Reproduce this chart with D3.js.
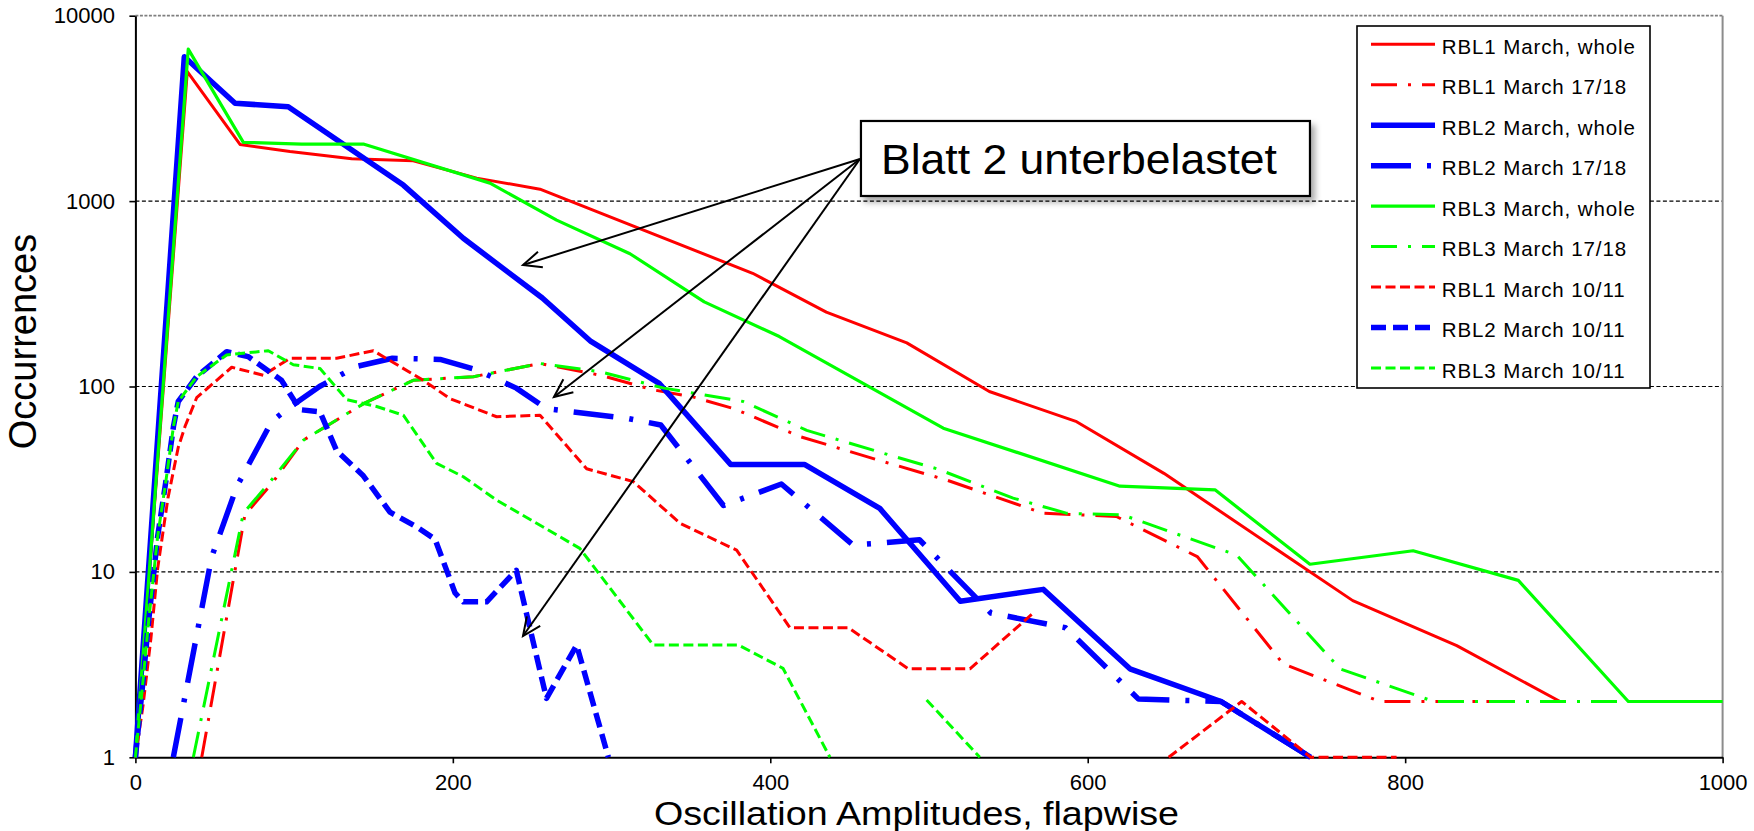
<!DOCTYPE html>
<html><head><meta charset="utf-8">
<script src="https://cdn.jsdelivr.net/npm/d3@7"></script>
<style>
html,body{margin:0;padding:0;background:#fff;}
svg{display:block;}
text{font-family:"Liberation Sans",Arial,Helvetica,sans-serif;fill:#000;}
</style></head><body>
<svg id="chart" width="1754" height="831"></svg>
<script>
// ---------- DATA ----------
const xTicks = [0, 200, 400, 600, 800, 1000];
const yTicks = [1, 10, 100, 1000, 10000];
const xTitle = "Oscillation Amplitudes, flapwise";
const yTitle = "Occurrences";
const annotationText = "Blatt 2 unterbelastet";

const seriesNames = [
  "RBL1 March, whole", "RBL1 March 17/18", "RBL2 March, whole", "RBL2 March 17/18",
  "RBL3 March, whole", "RBL3 March 17/18", "RBL1 March 10/11", "RBL2 March 10/11", "RBL3 March 10/11"
];

// [amplitude, occurrences]; null occurrences = gap (zero count on log axis)
const rbl1Whole = [[0,1],[32.7,5000],[65.9,2020],[97.4,1850],[136.3,1690],[175.1,1650],[215,1330],[254.9,1160],[388.9,408],[435.3,252],[486,172],[538,94],[593,64.6],[648,34],[767,7],[832.5,4],[897.6,2]];
const rbl1Mar1718 = [[41.8,1],[69,20.3],[86,30],[106,51.5],[144,81],[175,108],[213,113],[255,133],[293,115],[326,96],[351,88],[377,76],[419,53.6],[475,38.5],[511,31.3],[572,20.7],[618,19.9],[669,12.1],[723,3.2],[784,2],[870,2]];
const rbl2Whole = [[0,1],[30.8,6000],[62.8,3370],[96.3,3230],[168.8,1220],[206.6,630],[256.4,300],[287,175],[330,104],[375,38],[421.5,38],[469,22],[519.7,6.95],[572,8.05],[626.6,3],[684,2],[740.5,1]];
const rbl2Mar1718 = [[23.9,1],[48,12],[64,29],[86,65],[96,76],[116,100],[139,128],[162,142],[192,140],[215,123],[240,98],[259,76],[311,67],[331,62],[370.5,22.8],[407,29.8],[452,14],[469,14.3],[494,14.9],[539,6],[586,5],[632,2.06],[684,2],[740.5,1]];
const rbl3Whole = [[0,1],[33.3,6600],[68,2075],[104.8,2030],[143.6,2030],[223.4,1250],[265.4,790],[311.6,520],[358.4,286],[405.7,186],[509,59.6],[620.3,29],[680.2,27.7],[740,11],[805,13],[871.3,9],[940.6,2],[1000,2]];
const rbl3Mar1718 = [[36.5,1],[68,20.7],[84,30],[106,51.5],[144,81],[175,108],[213,113],[255,133],[293,120],[333,98],[383,83],[423,58],[475,42.7],[505,36],[553,25],[587,20.7],[622,20.3],[694,12.3],[759,3],[818,2],[935,2]];
const rbl1Mar1011 = [[0,1],[4.8,1.9],[9.8,4.4],[14,10.4],[20.5,25],[27,47],[31.3,61],[38.6,87],[60.7,127],[80.6,115],[97.4,142],[126.8,142],[149.9,156],[181.4,108],[198.2,86],[227.6,68.7],[254.9,70],[284.3,36],[313.7,30.7],[343.1,18.3],[378.8,13.1],[412.4,5],[449.2,5],[487,3],[525.8,3],[565.7,6],[610,null],[651,1],[697,2],[740.5,1],[794.6,1]];
const rbl2Mar1011 = [[0,1],[4,2.2],[8.4,5.5],[14,15.5],[19,30],[24,61],[27,83],[38.6,113],[57.5,154],[71,145],[92,108],[103.7,75],[116.3,73],[126.8,45],[143.6,33],[160.4,21],[177.2,17.5],[188.8,15],[201.4,7.7],[206.6,6.9],[221.3,6.9],[240,10.2],[259,2.08],[278,4.03],[298,1]];
const rbl3Mar1011 = [[0,1],[4,2.2],[8.4,5.5],[14,15.5],[19,30],[24,61],[27,83],[38.6,113],[57.5,148],[83.7,156],[99.5,131],[116.3,125],[133.1,85],[152,78],[168.8,70],[189.8,38.5],[206.6,32.6],[227.6,24.4],[280,13.4],[326.3,4.03],[380,4.03],[408,3.02],[437.6,1],[468,null],[498.5,2.04],[532,1]];

// annotation anchor (data coords) and arrow targets
const annotationApex = [456.5, 1687];
const annotationTargets = [[244.2, 452], [263.7, 87.8], [244.2, 4.51]];

// ---------- STYLES ----------
const seriesData = [rbl1Whole, rbl1Mar1718, rbl2Whole, rbl2Mar1718, rbl3Whole, rbl3Mar1718, rbl1Mar1011, rbl2Mar1011, rbl3Mar1011];
const seriesStyles = [
  {color:"#ff0000", width:3,   dash:null},
  {color:"#ff0000", width:3,   dash:"26 11 3 11"},
  {color:"#0000ff", width:5.5, dash:null},
  {color:"#0000ff", width:5.5, dash:"40 16 4 16"},
  {color:"#00ff00", width:3.2, dash:null},
  {color:"#00ff00", width:3,   dash:"26 11 3 11"},
  {color:"#ff0000", width:3,   dash:"10 4.5"},
  {color:"#0000ff", width:5.5, dash:"15 7"},
  {color:"#00ff00", width:3,   dash:"10 4.5"}
];

// ---------- LAYOUT ----------
const L = 135.4, R = 1722.6, T = 15.7, B = 757.3;
const svg = d3.select("#chart");
const x = d3.scaleLinear().domain([0, 1000]).range([L, R]);
const y = d3.scaleLog().domain([1, 10000]).range([B, T]);

const defs = svg.append("defs");
defs.append("clipPath").attr("id","plotclip").append("rect")
  .attr("x", L - 4).attr("y", T - 4).attr("width", R - L + 8).attr("height", B - T + 10);
const f = defs.append("filter").attr("id","shadow").attr("x","-10%").attr("y","-20%").attr("width","130%").attr("height","160%");
f.append("feDropShadow").attr("dx",4).attr("dy",5).attr("stdDeviation",3).attr("flood-color","#000").attr("flood-opacity",0.35);

// gridlines
svg.append("g").selectAll("line").data(yTicks.filter(v => v > 1))
  .join("line")
  .attr("x1", L).attr("x2", R)
  .attr("y1", d => y(d)).attr("y2", d => y(d))
  .attr("stroke", d => d === 10000 ? "#7f7f7f" : "#000")
  .attr("stroke-width", d => d === 10000 ? 1.8 : 1.2)
  .attr("stroke-dasharray", d => d === 10000 ? "3 1.5" : "4 2.5");

// right border
svg.append("line").attr("x1", R).attr("x2", R).attr("y1", T).attr("y2", B)
  .attr("stroke", "#8c8c8c").attr("stroke-width", 2);

// axes
const yAxis = d3.axisLeft(y).tickValues(yTicks).tickFormat(d3.format("d")).tickSize(6).tickSizeOuter(0).tickPadding(14.4);
const xAxis = d3.axisBottom(x).tickValues(xTicks).tickFormat(d3.format("d")).tickSize(6).tickSizeOuter(0).tickPadding(11);
const gy = svg.append("g").attr("transform", `translate(${L},0)`).call(yAxis);
const gx = svg.append("g").attr("transform", `translate(0,${B})`).call(xAxis);
[gx, gy].forEach(g => {
  g.select(".domain").attr("stroke", "#000").attr("stroke-width", 2);
  g.selectAll(".tick line").attr("stroke", "#000").attr("stroke-width", 1.6);
  g.selectAll(".tick text").attr("font-size", 22).attr("font-family", "Liberation Sans, Arial, sans-serif").attr("fill", "#000");
});

// series
const line = d3.line()
  .defined(d => d[1] != null && d[1] > 0)
  .x(d => x(d[0])).y(d => y(d[1]));
const gs = svg.append("g").attr("clip-path", "url(#plotclip)");
seriesData.forEach((data, i) => {
  const s = seriesStyles[i];
  gs.append("path").datum(data)
    .attr("d", line)
    .attr("fill", "none")
    .attr("stroke", s.color)
    .attr("stroke-width", s.width)
    .attr("stroke-linejoin", "round")
    .attr("stroke-dasharray", s.dash);
});

// axis titles
svg.append("text").attr("x", 916.5).attr("y", 825).attr("text-anchor", "middle")
  .attr("font-size", 33).attr("textLength", 525).attr("lengthAdjust", "spacingAndGlyphs").text(xTitle);
svg.append("text").attr("transform", "translate(36,341.5) rotate(-90)").attr("text-anchor", "middle")
  .attr("font-size", 38).text(yTitle);

// legend
const lg = svg.append("g");
lg.append("rect").attr("x", 1357).attr("y", 26).attr("width", 293).attr("height", 362)
  .attr("fill", "#fff").attr("stroke", "#000").attr("stroke-width", 1.6);
seriesNames.forEach((name, i) => {
  const s = seriesStyles[i];
  const ly = 44.3 + i * 40.46;
  lg.append("line").attr("x1", 1371).attr("x2", 1435).attr("y1", ly).attr("y2", ly)
    .attr("stroke", s.color).attr("stroke-width", s.width).attr("stroke-dasharray", s.dash);
  lg.append("text").attr("x", 1441.7).attr("y", ly + 9.7).attr("font-size", 20.5)
    .attr("letter-spacing", "0.9px").text(name);
});

// annotation arrows
const ax = x(annotationApex[0]) , ay = y(annotationApex[1]);
const ag = svg.append("g");
annotationTargets.forEach(t => {
  const tx = x(t[0]), ty = y(t[1]);
  ag.append("line").attr("x1", ax).attr("y1", ay).attr("x2", tx).attr("y2", ty)
    .attr("stroke", "#000").attr("stroke-width", 2);
  const ang = Math.atan2(ay - ty, ax - tx);
  const hl = 20, ha = 0.42;
  const p1 = [tx + hl * Math.cos(ang + ha), ty + hl * Math.sin(ang + ha)];
  const p2 = [tx + hl * Math.cos(ang - ha), ty + hl * Math.sin(ang - ha)];
  ag.append("path").attr("d", `M${p1[0]},${p1[1]}L${tx},${ty}L${p2[0]},${p2[1]}`)
    .attr("fill", "none").attr("stroke", "#000").attr("stroke-width", 2);
});
// annotation box
ag.append("rect").attr("x", ax + 1).attr("y", ay - 38).attr("width", 449).attr("height", 75)
  .attr("fill", "#fff").attr("stroke", "#000").attr("stroke-width", 2.2).attr("filter", "url(#shadow)");
ag.append("text").attr("x", ax + 21).attr("y", ay + 15).attr("font-size", 43)
  .attr("textLength", 396).attr("lengthAdjust", "spacingAndGlyphs").text(annotationText);
</script>
</body></html>
